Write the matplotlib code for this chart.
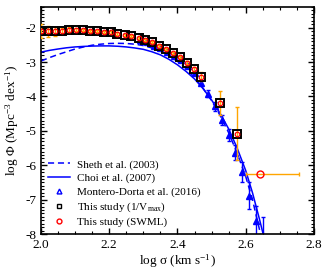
import numpy as np
import matplotlib
matplotlib.use('Agg')
import matplotlib.pyplot as plt
from matplotlib.lines import Line2D
from matplotlib.ticker import MultipleLocator

# кривые
curve_x = [2.00, 2.025, 2.05, 2.075, 2.10, 2.125, 2.15, 2.175, 2.20, 2.225, 2.25, 2.275, 2.30,
           2.325, 2.35, 2.375, 2.40, 2.425, 2.45, 2.475, 2.50, 2.525, 2.55, 2.575, 2.60,
           2.62, 2.64, 2.66]
choi_y = [-2.71, -2.66, -2.62, -2.585, -2.56, -2.545, -2.535, -2.53, -2.53, -2.54, -2.56, -2.59, -2.63,
          -2.70, -2.79, -2.92, -3.08, -3.27, -3.49, -3.77, -4.10, -4.49, -4.94, -5.50, -6.15,
          -6.80, -7.55, -8.35]
sheth_y = [-2.97, -2.87, -2.78, -2.70, -2.62, -2.56, -2.51, -2.48, -2.46, -2.455, -2.46, -2.48, -2.52,
           -2.59, -2.68, -2.81, -2.98, -3.19, -3.45, -3.76, -4.12, -4.55, -5.05, -5.65, -6.32,
           -7.00, -7.85, -8.70]

# Montero-Dorta et al. (2016)
md_x = [2.29, 2.31, 2.33, 2.35, 2.37, 2.39, 2.41, 2.43, 2.45, 2.47, 2.49, 2.51, 2.53, 2.55,
        2.57, 2.59, 2.61, 2.63, 2.65]
md_y = [-2.35, -2.42, -2.52, -2.60, -2.70, -2.82, -2.95, -3.10, -3.32, -3.60, -3.92, -4.29, -4.68,
        -5.12, -5.64, -6.20, -6.88, -7.62, -8.10]
md_err = [0.03, 0.03, 0.03, 0.04, 0.04, 0.05, 0.05, 0.06, 0.07, 0.08, 0.10, 0.12, 0.15, 0.18,
          0.22, 0.30, 0.38, 0.45, 0.60]

# This study (1/Vmax) и SWML
vm_x = [2.000, 2.020, 2.041, 2.061, 2.082, 2.102, 2.122, 2.143, 2.163, 2.184, 2.204, 2.224, 2.245,
        2.265, 2.286, 2.306, 2.326, 2.347, 2.367, 2.388, 2.408, 2.428, 2.449, 2.469, 2.524, 2.574]
vm_y = [-2.09, -2.11, -2.11, -2.09, -2.06, -2.06, -2.08, -2.09, -2.10, -2.12, -2.14, -2.17, -2.21,
        -2.25, -2.30, -2.36, -2.43, -2.53, -2.61, -2.73, -2.85, -3.02, -3.19, -3.42, -4.19, -5.08]
vm_err = [0.20, 0.15, 0.12, 0.08, 0.08, 0.04, 0.03, 0.03, 0.03, 0.03, 0.03, 0.03, 0.03,
          0.03, 0.03, 0.03, 0.03, 0.03, 0.03, 0.03, 0.04, 0.04, 0.06, 0.14, 0.36, 0.78]

sw_x = [2.641]
sw_y = [-6.24]
sw_xerr_lo = [0.04]
sw_xerr_hi = [0.114]

plt.rcParams['font.family'] = ['Liberation Serif', 'DejaVu Serif']
plt.rcParams['mathtext.fontset'] = 'stix'
plt.rcParams['axes.unicode_minus'] = False

fig = plt.figure(figsize=(3.28, 2.70), dpi=100)
ax = fig.add_axes([0.125, 0.133, 0.832, 0.841])

ax.plot(curve_x, sheth_y, color='blue', ls=(0, (4, 2.5)), lw=1.1)
ax.plot(curve_x, choi_y, color='blue', ls='-', lw=1.1)

ax.errorbar(md_x, md_y, yerr=md_err, fmt='^', color='blue', ms=4, elinewidth=1,
            capsize=1.5, capthick=1)

ax.errorbar(vm_x, vm_y, yerr=vm_err, fmt='none', ecolor='orange', elinewidth=1,
            capsize=1.5, capthick=1, zorder=3)
ax.plot(vm_x, vm_y, 's', mfc='none', mec='black', ms=5.2, mew=1.4, zorder=4)
ax.plot(vm_x, vm_y, 'o', mfc='none', mec='red', ms=3.3, mew=0.9, zorder=5)

ax.errorbar(sw_x, sw_y, xerr=[sw_xerr_lo, sw_xerr_hi], fmt='o', mfc='none', mec='red',
            ms=5, mew=1, ecolor='orange', elinewidth=1, capsize=1.5, capthick=1, zorder=5)

ax.set_xlim(2.0, 2.8)
ax.set_ylim(-8, -1.4)
ax.xaxis.set_major_locator(MultipleLocator(0.2))
ax.xaxis.set_minor_locator(MultipleLocator(0.05))
ax.yaxis.set_major_locator(MultipleLocator(1))
ax.yaxis.set_minor_locator(MultipleLocator(0.1))
ax.xaxis.set_major_formatter(plt.FormatStrFormatter('%.1f'))
ax.yaxis.set_major_formatter(plt.FormatStrFormatter('%d'))
ax.tick_params(which='both', direction='in', top=True, right=True, labelsize=9.5)
ax.tick_params(which='major', length=4, width=1)
ax.tick_params(which='minor', length=2, width=0.8)
for s in ax.spines.values():
    s.set_linewidth(1.2)

ax.set_xlabel(r'log σ (km s$^{\mathregular{-1}}$)', fontsize=9.5, labelpad=1)
ax.set_ylabel(r'log Φ (Mpc$^{\mathregular{-3}}$ dex$^{\mathregular{-1}}$)', fontsize=9.5, labelpad=2)

handles = [
    Line2D([], [], color='blue', ls=(0, (4, 2.5)), lw=1.1),
    Line2D([], [], color='blue', ls='-', lw=1.1),
    Line2D([], [], color='blue', ls='none', marker='^', mfc='none', ms=3.5, mew=1),
    Line2D([], [], color='black', ls='none', marker='s', mfc='none', ms=3.5, mew=1),
    Line2D([], [], color='red', ls='none', marker='o', mfc='none', ms=3.5, mew=1),
]
labels = ['Sheth et al. (2003)', 'Choi et al. (2007)', 'Montero-Dorta et al. (2016)',
          r'This study (1/V$_{\mathregular{max}}$)', 'This study (SWML)']
ax.legend(handles, labels, loc='lower left', frameon=False, fontsize=8, handlelength=2.0,
          handletextpad=0.6, labelspacing=0.32, borderaxespad=0.2, bbox_to_anchor=(0.0, 0.0))

fig.savefig('out.png', dpi=100)
